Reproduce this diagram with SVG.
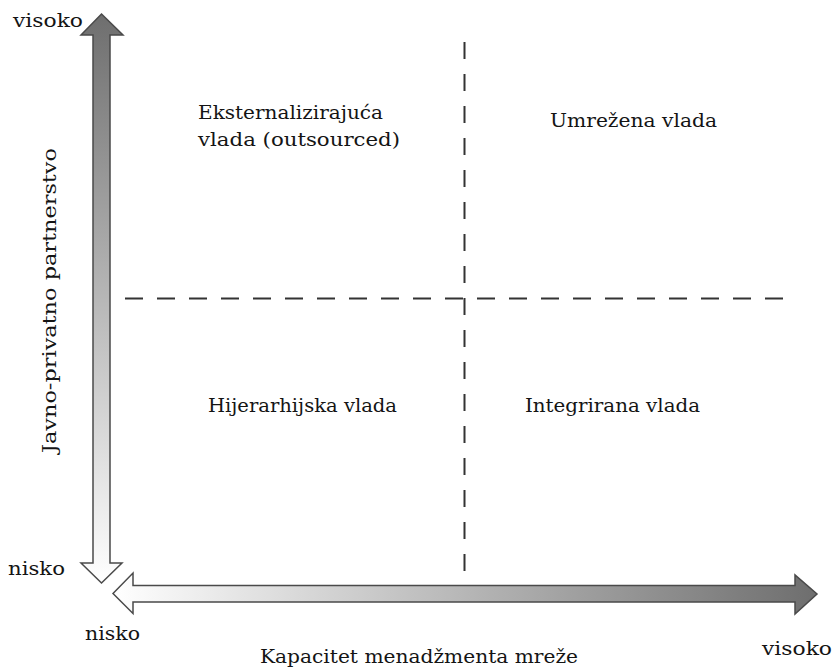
<svg xmlns="http://www.w3.org/2000/svg" width="835" height="669" viewBox="0 0 835 669">
  <style>
    .lbl { font-family: "DejaVu Serif", "Liberation Serif", serif; font-size: 18px; fill: #141414; }
    .dash { stroke: #333333; stroke-width: 2; fill: none; }
    .arrow { stroke: #4a4a4a; stroke-width: 1.5; stroke-linejoin: miter; }
  </style>
  <defs>
    <linearGradient id="gv" x1="0" y1="0" x2="0" y2="1">
      <stop offset="0" stop-color="#6e6e6e"/>
      <stop offset="1" stop-color="#ffffff"/>
    </linearGradient>
    <linearGradient id="gh" x1="0" y1="0" x2="1" y2="0">
      <stop offset="0" stop-color="#ffffff"/>
      <stop offset="1" stop-color="#6e6e6e"/>
    </linearGradient>
  </defs>

  <g id="connectors">
    <line class="dash" x1="464.5" y1="42" x2="464.5" y2="573" stroke-dasharray="17 15"/>
    <line class="dash" x1="125" y1="298.5" x2="783" y2="298.5" stroke-dasharray="18 14"/>
  </g>

  <g id="axis-vertical">
    <polygon class="arrow" fill="url(#gv)" points="101.5,14 123,35 110,35 110,563 122,563 101.5,583 81,563 93,563 93,35 81,35"/>
    <text class="lbl" x="13" y="27" textLength="70" lengthAdjust="spacingAndGlyphs">visoko</text>
    <text class="lbl" x="8" y="575" textLength="57" lengthAdjust="spacingAndGlyphs">nisko</text>
    <text class="lbl" transform="translate(56,453) rotate(-90)" x="0" y="0" textLength="305" lengthAdjust="spacingAndGlyphs">Javno-privatno partnerstvo</text>
  </g>

  <g id="axis-horizontal">
    <polygon class="arrow" fill="url(#gh)" points="113,593.5 133,573 133,585.5 795,585.5 795,575 817,594 795,614 795,602 133,602 133,613.5"/>
    <text class="lbl" x="85" y="640" textLength="55" lengthAdjust="spacingAndGlyphs">nisko</text>
    <text class="lbl" x="762" y="655" textLength="70" lengthAdjust="spacingAndGlyphs">visoko</text>
    <text class="lbl" x="260" y="663" textLength="318" lengthAdjust="spacingAndGlyphs">Kapacitet menadžmenta mreže</text>
  </g>

  <g id="q-externalizing">
    <text class="lbl" x="198" y="119" textLength="185" lengthAdjust="spacingAndGlyphs">Eksternalizirajuća</text>
    <text class="lbl" x="198" y="146" textLength="202" lengthAdjust="spacingAndGlyphs">vlada (outsourced)</text>
  </g>
  <g id="q-networked">
    <text class="lbl" x="550" y="127" textLength="167" lengthAdjust="spacingAndGlyphs">Umrežena vlada</text>
  </g>
  <g id="q-hierarchical">
    <text class="lbl" x="208" y="412" textLength="189" lengthAdjust="spacingAndGlyphs">Hijerarhijska vlada</text>
  </g>
  <g id="q-integrated">
    <text class="lbl" x="525" y="412" textLength="175" lengthAdjust="spacingAndGlyphs">Integrirana vlada</text>
  </g>
</svg>
